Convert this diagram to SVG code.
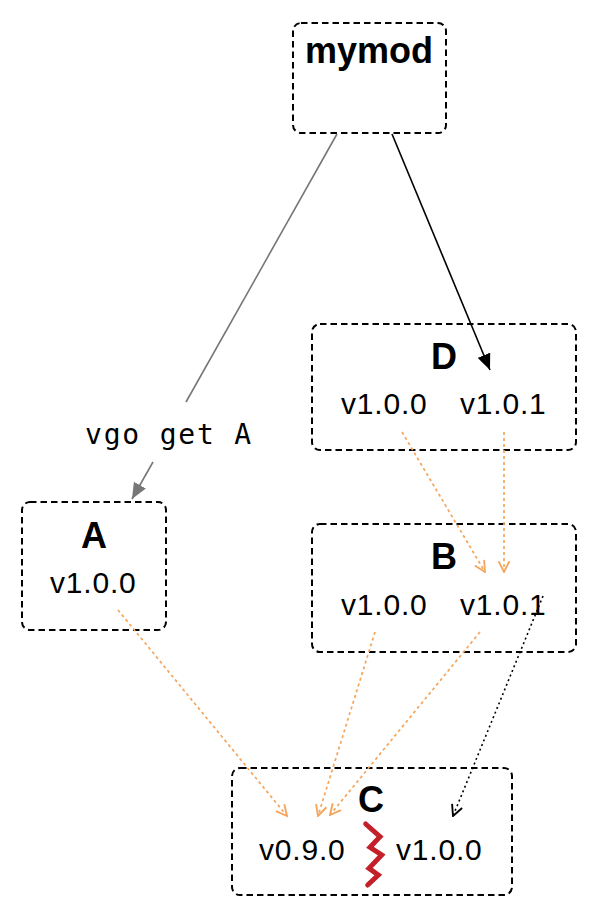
<svg xmlns="http://www.w3.org/2000/svg" width="598" height="918" viewBox="0 0 598 918">
<defs>
<style>
.box{fill:#fff;stroke:#000;stroke-width:2;stroke-dasharray:6.5 4}
.title{font-family:"Liberation Sans",Arial,sans-serif;font-weight:bold;font-size:36px;text-anchor:middle;fill:#000}
.ver{font-family:"Liberation Sans",Arial,sans-serif;font-size:30px;letter-spacing:0.8px;fill:#000}
.mono{font-family:"DejaVu Sans Mono","Liberation Mono",monospace;font-size:28px;letter-spacing:1.8px;fill:#000}
.dep{fill:none;stroke:#f5a55b;stroke-width:1.7;stroke-dasharray:3 3;marker-end:url(#vo)}
</style>
<marker id="vo" viewBox="0 0 12 12" refX="11" refY="6" markerWidth="13" markerHeight="13" markerUnits="userSpaceOnUse" orient="auto"><path d="M1,1 L11,6 L1,11" fill="none" stroke="#f5a55b" stroke-width="1.7"/></marker>
<marker id="vb" viewBox="0 0 12 12" refX="11" refY="6" markerWidth="13" markerHeight="13" markerUnits="userSpaceOnUse" orient="auto"><path d="M1,1 L11,6 L1,11" fill="none" stroke="#000" stroke-width="1.7"/></marker>
<marker id="fg" viewBox="0 0 14 12" refX="14" refY="6" markerWidth="16" markerHeight="14" markerUnits="userSpaceOnUse" orient="auto"><path d="M0,0 L14,6 L0,12 Z" fill="#777"/></marker>
<marker id="fb" viewBox="0 0 14 12" refX="14" refY="6" markerWidth="16" markerHeight="14" markerUnits="userSpaceOnUse" orient="auto"><path d="M0,0 L14,6 L0,12 Z" fill="#000"/></marker>
</defs>
<rect width="598" height="918" fill="#fff"/>

<g id="mymod">
<rect class="box" x="293" y="23" width="153" height="110" rx="8"/>
<text class="title" x="369" y="63">mymod</text>
</g>
<g id="D">
<rect class="box" x="312" y="324" width="264" height="126" rx="8"/>
<text class="title" x="444" y="369">D</text>
<text class="ver" x="341" y="414">v1.0.0</text>
<text class="ver" x="460" y="414">v1.0.1</text>
</g>
<g id="B">
<rect class="box" x="312" y="524" width="264" height="128" rx="8"/>
<text class="title" x="444" y="569">B</text>
<text class="ver" x="341" y="615">v1.0.0</text>
<text class="ver" x="460" y="615">v1.0.1</text>
</g>
<g id="A">
<rect class="box" x="22" y="502" width="144" height="128" rx="8"/>
<text class="title" x="94" y="548">A</text>
<text class="ver" x="50" y="593">v1.0.0</text>
</g>
<g id="C">
<rect class="box" x="232" y="768" width="280" height="127" rx="8"/>
<text class="title" x="371" y="812">C</text>
<text class="ver" x="259" y="860">v0.9.0</text>
<text class="ver" x="396" y="860">v1.0.0</text>
<polyline points="365.7,824 380,836.7 370,847.3 381.7,855 369,868.3 378.3,875 367.7,885" fill="none" stroke="#c4202a" stroke-width="5" stroke-linecap="round" stroke-linejoin="miter"/>
</g>
<g id="label">
<text class="mono" x="85" y="444">vgo get A</text>
</g>

<g id="connectors">
<line x1="337" y1="134" x2="186" y2="402" stroke="#777" stroke-width="1.6"/>
<line x1="153" y1="462" x2="132" y2="499" stroke="#777" stroke-width="1.6" marker-end="url(#fg)"/>
<line x1="392" y1="134" x2="490" y2="370" stroke="#000" stroke-width="1.6" marker-end="url(#fb)"/>
<line class="dep" x1="402" y1="432" x2="485" y2="572"/>
<line class="dep" x1="504" y1="432" x2="504" y2="572"/>
<line class="dep" x1="118" y1="610" x2="287" y2="816"/>
<line class="dep" x1="375" y1="632" x2="318" y2="816"/>
<line class="dep" x1="480" y1="632" x2="330" y2="815"/>
<line x1="543" y1="596" x2="453" y2="816" fill="none" stroke="#000" stroke-width="1.6" stroke-dasharray="2 3" marker-end="url(#vb)"/>
</g>
</svg>
